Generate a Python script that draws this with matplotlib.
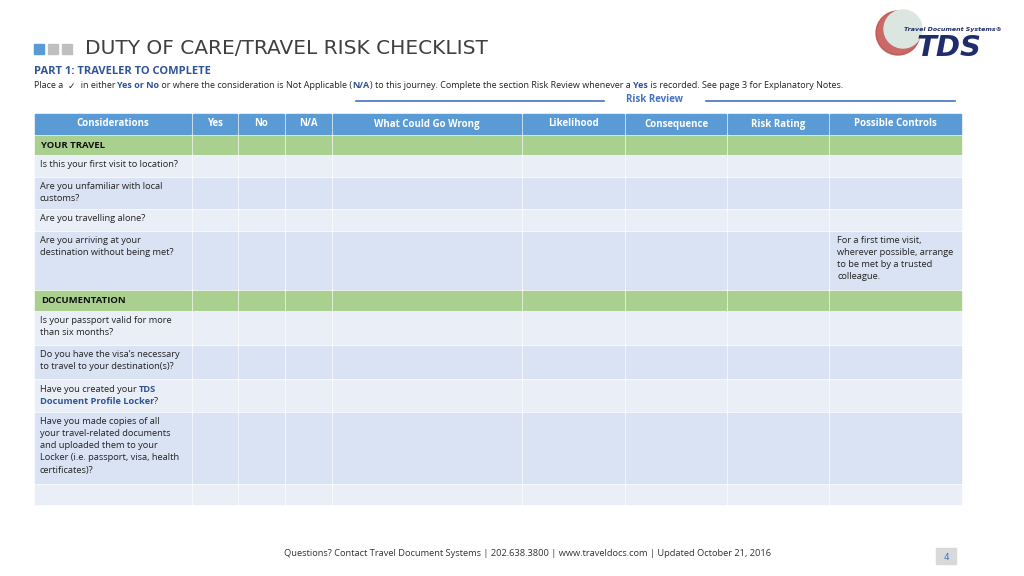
import matplotlib
matplotlib.use("Agg")
import matplotlib.pyplot as plt
from matplotlib.patches import Rectangle, Circle

columns = ["Considerations", "Yes", "No", "N/A", "What Could Go Wrong", "Likelihood",
           "Consequence", "Risk Rating", "Possible Controls"]
col_edges = [34, 192, 238, 285, 332, 522, 625, 727, 829, 962]
rows = [
    ("section", "YOUR TRAVEL", ""),
    ("row", "Is this your first visit to location?", ""),
    ("row", "Are you unfamiliar with local\ncustoms?", ""),
    ("row", "Are you travelling alone?", ""),
    ("row", "Are you arriving at your\ndestination without being met?",
     "For a first time visit,\nwherever possible, arrange\nto be met by a trusted\ncolleague."),
    ("section", "DOCUMENTATION", ""),
    ("row", "Is your passport valid for more\nthan six months?", ""),
    ("row", "Do you have the visa\u2019s necessary\nto travel to your destination(s)?", ""),
    ("row", "LOCKER", ""),
    ("row", "Have you made copies of all\nyour travel-related documents\nand uploaded them to your\nLocker (i.e. passport, visa, health\ncertificates)?", ""),
    ("row", "", ""),
]
row_edges = [135, 155, 177, 209, 231, 290, 311, 345, 379, 412, 484, 505]

fig = plt.figure(figsize=(10.24, 5.76), dpi=100)
ax = fig.add_axes([0, 0, 1, 1])
ax.set_xlim(0, 1024); ax.set_ylim(576, 0); ax.axis("off")
fig.canvas.draw()
rend = fig.canvas.get_renderer()

BLUE = "#5b9bd5"; GREEN = "#a9d08e"; L1 = "#eaeff7"; L2 = "#dae3f3"
NAVY = "#2f5496"; TXT = "#222222"
FS = 6.7

def runs(x, y, parts, fs=FS, va="center"):
    for s, col, bold, fam in parts:
        t = ax.text(x, y, s, fontsize=fs, color=col, weight="bold" if bold else "normal",
                    va=va, family=fam)
        bb = t.get_window_extent(renderer=rend)
        x += bb.width

# title
for i, c in enumerate(["#5b9bd5", "#bfbfbf", "#bfbfbf"]):
    ax.add_patch(Rectangle((34 + i * 14, 44), 10, 10, color=c))
ax.text(85, 49, "DUTY OF CARE/TRAVEL RISK CHECKLIST", fontsize=14.5, color="#404040",
        va="center", family="DejaVu Sans")
ax.text(34, 72, "PART 1: TRAVELER TO COMPLETE", fontsize=8, color=NAVY, weight="bold",
        va="center", family="Open Sans")
OS = "Open Sans"
runs(34, 86, [("Place a  ", TXT, False, OS), ("\u2713", TXT, False, "DejaVu Sans"),
              ("  in either ", TXT, False, OS), ("Yes or No", NAVY, True, OS),
              (" or where the consideration is Not Applicable (", TXT, False, OS),
              ("N/A", NAVY, True, OS),
              (") to this journey. Complete the section Risk Review whenever a ", TXT, False, OS),
              ("Yes", NAVY, True, OS),
              (" is recorded. See page 3 for Explanatory Notes.", TXT, False, OS)], fs=6.5)
ax.plot([356, 604], [101, 101], color="#4472c4", lw=1.2)
ax.plot([706, 955], [101, 101], color="#4472c4", lw=1.2)
ax.text(655, 99, "Risk Review", fontsize=7, color="#4472c4", weight="bold", ha="center",
        va="center", family=OS)

gap = 1.5
for j in range(len(columns)):
    x0, x1 = col_edges[j], col_edges[j + 1]
    ax.add_patch(Rectangle((x0 + gap / 2, 114), x1 - x0 - gap, 20, color=BLUE))
    ax.text((x0 + x1) / 2, 124, columns[j], color="white", fontsize=7, weight="bold",
            ha="center", va="center", family=OS)

k = 0
for i, (kind, label, ctrl) in enumerate(rows):
    y0, y1 = row_edges[i], row_edges[i + 1]
    if kind == "section":
        color = GREEN
    else:
        color = L1 if k % 2 == 0 else L2
        k += 1
    for j in range(len(columns)):
        x0, x1 = col_edges[j], col_edges[j + 1]
        ax.add_patch(Rectangle((x0 + gap / 2, y0 + gap / 2), x1 - x0 - gap, y1 - y0 - gap, color=color))
    if kind == "section":
        ax.text(41, (y0 + y1) / 2, label, fontsize=6.8, weight="bold", va="center", color="#111111",
                family=OS)
    elif label == "LOCKER":
        runs(40, y0 + 11, [("Have you created your ", TXT, False, OS), ("TDS", NAVY, True, OS)])
        runs(40, y0 + 23, [("Document Profile Locker", NAVY, True, OS), ("?", TXT, False, OS)])
    elif label:
        ax.text(40, y0 + 5, label, fontsize=FS, va="top", color=TXT, linespacing=1.45, family=OS)
    if ctrl:
        ax.text(837, y0 + 5, ctrl, fontsize=FS, va="top", color=TXT, linespacing=1.45, family=OS)

ax.text(528, 554, "Questions? Contact Travel Document Systems | 202.638.3800 | www.traveldocs.com | Updated October 21, 2016",
        fontsize=6.7, color="#333333", ha="center", va="center", family=OS)
ax.add_patch(Rectangle((936, 548), 20, 16, color="#d9d9d9"))
ax.text(946, 557, "4", fontsize=6.5, color="#4472c4", ha="center", va="center")

# logo
ax.add_patch(Circle((898, 33), 22, color="#c0504d", alpha=0.85))
ax.add_patch(Circle((903, 29), 19, color="#dce6e0"))
ax.text(904, 29, "Travel Document Systems\u00ae", fontsize=4.5, style="italic", weight="bold",
        color="#1f2d6b", va="center")
ax.text(917, 48, "TDS", fontsize=21, style="italic", weight="heavy", color="#1f2d6b",
        va="center", family="DejaVu Sans")

fig.savefig("out.png", dpi=100)
